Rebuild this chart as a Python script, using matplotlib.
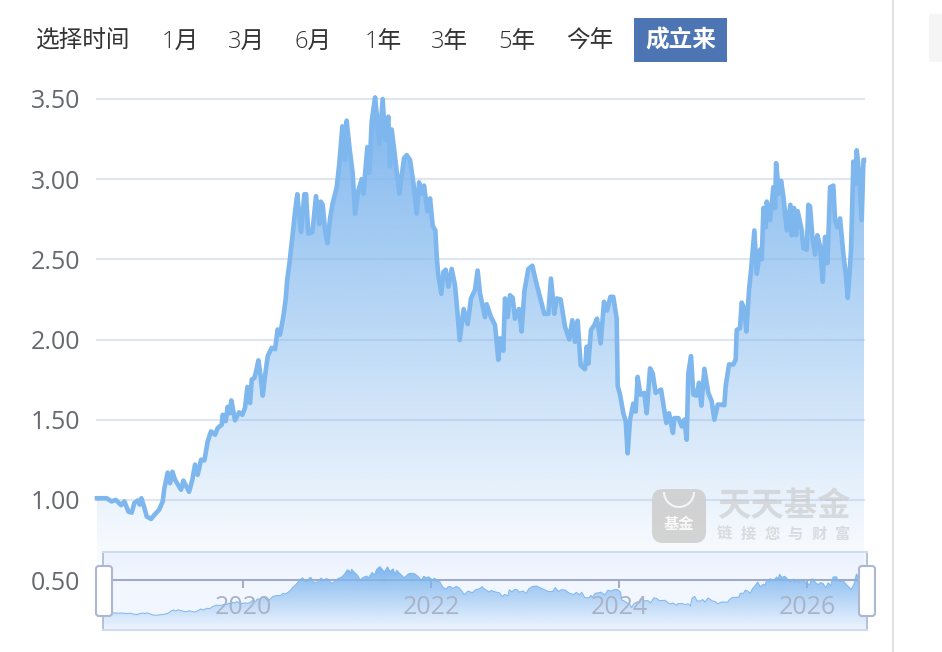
import numpy as np
import matplotlib
matplotlib.use('Agg')
import matplotlib.pyplot as plt
from matplotlib.colors import to_rgb
from matplotlib.patches import Rectangle, FancyBboxPatch, Arc

plt.rcParams['font.family'] = ['Open Sans', 'Noto Sans CJK SC', 'DejaVu Sans']

### data, year as a decimal and unit net value
years_a = [2018.447, 2018.550, 2018.603, 2018.646, 2018.703, 2018.738, 2018.781, 2018.816, 2018.844, 2018.880,
           2018.901, 2018.919, 2018.951, 2018.976, 2019.022, 2019.057, 2019.107, 2019.146, 2019.164, 2019.199,
           2019.224, 2019.249, 2019.277, 2019.341, 2019.366, 2019.391, 2019.426, 2019.461, 2019.490, 2019.518,
           2019.554, 2019.589, 2019.625, 2019.660, 2019.703, 2019.731, 2019.774, 2019.784, 2019.816, 2019.837,
           2019.859, 2019.876, 2019.915, 2019.958, 2019.993, 2020.022, 2020.047, 2020.075, 2020.093, 2020.121,
           2020.139, 2020.164, 2020.188, 2020.210, 2020.234, 2020.263, 2020.305, 2020.341, 2020.369, 2020.394,
           2020.430, 2020.454]
nav_a = [1.01, 1.01, 0.99, 1.00, 0.967, 0.99, 0.927, 0.92, 0.98, 0.996,
         0.97, 1.01, 0.95, 0.896, 0.881, 0.906, 0.9375, 0.99, 1.073, 1.17,
         1.104, 1.175, 1.125, 1.0625, 1.12, 1.09, 1.05, 1.125, 1.22, 1.156,
         1.25, 1.246, 1.365, 1.427, 1.406, 1.448, 1.469, 1.53, 1.49, 1.58,
         1.54, 1.62, 1.496, 1.546, 1.53, 1.575, 1.704, 1.604, 1.75, 1.76,
         1.80, 1.87, 1.77, 1.65, 1.77, 1.896, 1.948, 1.94, 2.0625, 2.03,
         2.146, 2.25]

years_b = [2020.470, 2020.493, 2020.529, 2020.554, 2020.578, 2020.607, 2020.617, 2020.653, 2020.671, 2020.695,
           2020.738, 2020.777, 2020.812, 2020.827, 2020.848, 2020.873, 2020.898, 2020.926, 2020.954, 2020.997,
           2021.025, 2021.057, 2021.075, 2021.085, 2021.103, 2021.132, 2021.167, 2021.192, 2021.227, 2021.263,
           2021.281, 2021.323, 2021.344, 2021.369, 2021.405, 2021.422, 2021.451, 2021.486, 2021.511, 2021.546,
           2021.564, 2021.582, 2021.617, 2021.663, 2021.713, 2021.741, 2021.777, 2021.812, 2021.848, 2021.873,
           2021.901, 2021.926, 2021.961, 2021.990, 2022.018, 2022.046, 2022.061, 2022.078, 2022.110, 2022.132,
           2022.156, 2022.185]
nav_b = [2.37, 2.47, 2.66, 2.80, 2.906, 2.72, 2.67, 2.906, 2.906, 2.66,
         2.67, 2.894, 2.72, 2.86, 2.84, 2.68, 2.60, 2.755, 2.85, 2.95,
         3.10, 3.33, 3.31, 3.12, 3.365, 3.20, 3.035, 2.785, 2.93, 3.00,
         2.91, 3.20, 3.04, 3.36, 3.51, 3.41, 3.22, 3.50, 3.245, 3.39,
         3.08, 3.31, 3.14, 2.91, 3.13, 3.15, 3.12, 2.98, 2.785, 2.98,
         2.91, 2.96, 2.80, 2.88, 2.71, 2.68, 2.515, 2.40, 2.285, 2.42,
         2.435, 2.33]

years_c = [2022.220, 2022.255, 2022.280, 2022.305, 2022.347, 2022.390, 2022.425, 2022.468, 2022.496, 2022.521,
           2022.574, 2022.592, 2022.638, 2022.681, 2022.716, 2022.734, 2022.769, 2022.787, 2022.815, 2022.840,
           2022.869, 2022.893, 2022.936, 2022.964, 2022.993, 2023.035, 2023.078, 2023.113, 2023.159, 2023.205,
           2023.248, 2023.276, 2023.312, 2023.337, 2023.379, 2023.425, 2023.471, 2023.503, 2023.532, 2023.560,
           2023.592, 2023.638, 2023.656, 2023.674, 2023.702, 2023.737, 2023.766, 2023.805, 2023.840, 2023.872,
           2023.908, 2023.939, 2023.975]
nav_c = [2.44, 2.34, 2.18, 1.997, 2.19, 2.096, 2.256, 2.31, 2.43, 2.29,
         2.14, 2.22, 2.14, 2.09, 1.873, 2.007, 1.93, 2.256, 2.14, 2.276,
         2.26, 2.13, 2.19, 2.05, 2.30, 2.44, 2.46, 2.37, 2.266, 2.16,
         2.16, 2.38, 2.16, 2.256, 2.25, 2.08, 2.00, 2.12, 1.986, 2.117,
         1.84, 1.815, 1.955, 1.85, 2.06, 2.09, 2.13, 1.976, 2.235, 2.18,
         2.266, 2.266, 2.13]

years_d = [2023.986, 2024.011, 2024.046, 2024.071, 2024.092, 2024.117, 2024.152, 2024.177, 2024.198, 2024.227,
           2024.269, 2024.294, 2024.330, 2024.358, 2024.390, 2024.447, 2024.503, 2024.532, 2024.574, 2024.589,
           2024.631, 2024.667, 2024.695, 2024.720, 2024.737, 2024.766, 2024.791, 2024.826, 2024.851, 2024.876,
           2024.908, 2024.950, 2024.986, 2025.014, 2025.050, 2025.085, 2025.120, 2025.135, 2025.170, 2025.216,
           2025.241, 2025.252, 2025.287, 2025.305, 2025.333, 2025.355, 2025.383]
nav_d = [1.71, 1.656, 1.54, 1.49, 1.29, 1.50, 1.60, 1.55, 1.767, 1.656,
         1.667, 1.54, 1.82, 1.79, 1.667, 1.6875, 1.48, 1.54, 1.417, 1.51,
         1.51, 1.458, 1.50, 1.375, 1.79, 1.896, 1.656, 1.65, 1.73, 1.5875,
         1.817, 1.667, 1.615, 1.50, 1.594, 1.594, 1.59, 1.71, 1.844, 1.844,
         1.875, 2.06, 2.07, 2.23, 2.19, 2.05, 2.31]

years_e = [2025.405, 2025.440, 2025.465, 2025.500, 2025.518, 2025.536, 2025.561, 2025.571, 2025.607, 2025.642,
           2025.660, 2025.671, 2025.702, 2025.724, 2025.749, 2025.784, 2025.823, 2025.837, 2025.862, 2025.883,
           2025.901, 2025.944, 2025.961, 2025.997, 2026.014, 2026.032, 2026.057, 2026.085, 2026.110, 2026.139,
           2026.167, 2026.192, 2026.217, 2026.245, 2026.280, 2026.298, 2026.323, 2026.351, 2026.387, 2026.412,
           2026.433, 2026.451, 2026.468, 2026.493, 2026.511, 2026.529, 2026.554, 2026.582, 2026.600, 2026.606]
nav_e = [2.435, 2.68, 2.41, 2.56, 2.50, 2.82, 2.70, 2.86, 2.745, 2.95,
         2.82, 3.10, 2.91, 2.99, 2.89, 2.68, 2.84, 2.65, 2.82, 2.65,
         2.80, 2.68, 2.57, 2.56, 2.84, 2.83, 2.64, 2.53, 2.65, 2.58,
         2.36, 2.64, 2.476, 2.95, 2.96, 2.745, 2.70, 2.755, 2.53, 2.41,
         2.26, 2.40, 2.56, 3.11, 2.97, 3.18, 3.035, 2.745, 3.12, 3.12]

years = np.array(years_a + years_b + years_c + years_d + years_e)
nav = np.array(nav_a + nav_b + nav_c + nav_d + nav_e)

y_ticks = [0.5, 1.0, 1.5, 2.0, 2.5, 3.0, 3.5]
y_labels = ['0.50', '1.00', '1.50', '2.00', '2.50', '3.00', '3.50']
x_ticks = [2020, 2022, 2024, 2026]
x_labels = ['2020', '2022', '2024', '2026']
buttons = ['1月', '3月', '6月', '1年', '3年', '5年', '今年']
button_x = [180.5, 246, 313, 383, 449, 516.5, 590]

W, H = 942, 652
LINE = '#7EB6EE'


def px_axes(fig, x0, y0, x1, y1):
    return fig.add_axes([x0 / W, 1 - y1 / H, (x1 - x0) / W, (y1 - y0) / H])


def gradient_fill(ax, x, y, low, high, end_alpha):
    poly = ax.fill_between(x, y, low, color='none', linewidth=0)
    rgba = np.zeros((256, 1, 4))
    rgba[:, :, :3] = to_rgb(LINE)
    rgba[:, 0, 3] = np.linspace(1, end_alpha, 256)
    im = ax.imshow(rgba, extent=[x[0], x[-1], low, high], aspect='auto', zorder=1,
                   origin='upper', interpolation='bilinear')
    im.set_clip_path(poly.get_paths()[0], transform=ax.transData)


fig = plt.figure(figsize=(W / 100, H / 100), dpi=100, facecolor='white')

### main chart
ax = px_axes(fig, 97, 99, 864, 580)
ax.set_facecolor('none')
ax.set_yticks(y_ticks, y_labels, fontsize=18, color='#666872')
ax.set_xticks(x_ticks, ['', '', '', ''])
ax.tick_params(axis='y', length=0, pad=12)
ax.tick_params(axis='x', length=5.8, width=1.4, color='#A5ABBC')
for s in ['top', 'left', 'right']:
    ax.spines[s].set_visible(False)
ax.spines['bottom'].set_color('#A5ABBC')
ax.spines['bottom'].set_linewidth(1.5)
for t in y_ticks[1:]:
    ax.axhline(t, color='#E0E6F1', lw=1.5, zorder=0, clip_on=False)
gradient_fill(ax, years, nav, 0.5, 3.5, 0)
ax.set_xlim(2018.447, 2026.606)
ax.set_ylim(0.5, 3.5)
ax.plot(years, nav, color=LINE, lw=3.3, solid_joinstyle='round', clip_on=False, zorder=3)

### slider with the small copy of the series
mini = px_axes(fig, 103, 552, 867, 630)
mini.set_zorder(2)
mini.set_facecolor((0.53, 0.69, 1.0, 0.11))
mini.set_xticks([])
mini.set_yticks([])
for s in ['left', 'right']:
    mini.spines[s].set_color('#ACB8D1')
    mini.spines[s].set_linewidth(1.2)
for s in ['top', 'bottom']:
    mini.spines[s].set_color('#D2DBEE')
    mini.spines[s].set_linewidth(1.5)
gradient_fill(mini, years, nav, 0.08, 3.5, 0.03)
mini.set_xlim(2018.447, 2026.606)
mini.set_ylim(0.08, 4.3)
mini.plot(years, nav, color=LINE, lw=0.7)

### x labels sit on top of the slider
top = px_axes(fig, 97, 99, 864, 580)
top.set_zorder(3)
top.patch.set_visible(False)
top.set_xlim(2018.447, 2026.606)
top.set_yticks([])
top.set_xticks(x_ticks, x_labels, fontsize=18, color='#A9B3C8')
top.tick_params(axis='x', length=0, pad=11)
for s in top.spines.values():
    s.set_visible(False)

### everything else is page furniture, drawn in pixels
pg = fig.add_axes([0, 0, 1, 1])
pg.set_zorder(4)
pg.patch.set_visible(False)
pg.set_xlim(0, W)
pg.set_ylim(H, 0)
pg.axis('off')

pg.text(83, 41.5, '选择时间', fontsize=17, color='#333333', ha='center', va='center', weight='medium')
for lab, cx in zip(buttons, button_x):
    pg.text(cx, 41.5, lab, fontsize=17, color='#333333', ha='center', va='center', weight='light')
pg.add_patch(Rectangle((634, 18), 93, 44, fc='#4E75B3', ec='none'))
pg.text(681, 41.5, '成立来', fontsize=17, color='white', ha='center', va='center', weight='bold')

pg.plot([893, 893], [0, H], color='#E3E3E3', lw=1.5)
pg.add_patch(Rectangle((929, 14), 13, 48, fc='#F5F5F5', ec='none'))

for x0 in [96, 859]:
    pg.add_patch(FancyBboxPatch((x0 + 2, 568), 12, 46, boxstyle='round,pad=2,rounding_size=3',
                                fc='white', ec='#ACB8D1', lw=1.5))

### watermark
pg.add_patch(FancyBboxPatch((661, 498), 36, 36, boxstyle='round,pad=9,rounding_size=11',
                            fc='#CFCFCF', ec='none', alpha=0.9))
pg.add_patch(Arc((679, 492), 30, 30, theta1=0, theta2=180, ec='white', lw=1.5, alpha=0.8))
pg.text(679, 525, '基金', fontsize=11, color='white', ha='center', va='center', weight='bold', alpha=0.85)
pg.text(783.5, 508, '天天基金', fontsize=24, color='#C8C8C8', ha='center', va='center', weight='bold', alpha=0.6)
for ch, cx in zip('链接您与财富', [724, 748, 772, 795, 819, 843]):
    pg.text(cx, 535, ch, fontsize=11, color='#C8C8C8', ha='center', va='center', weight='bold', alpha=0.6)

fig.savefig('out.png', dpi=100)
